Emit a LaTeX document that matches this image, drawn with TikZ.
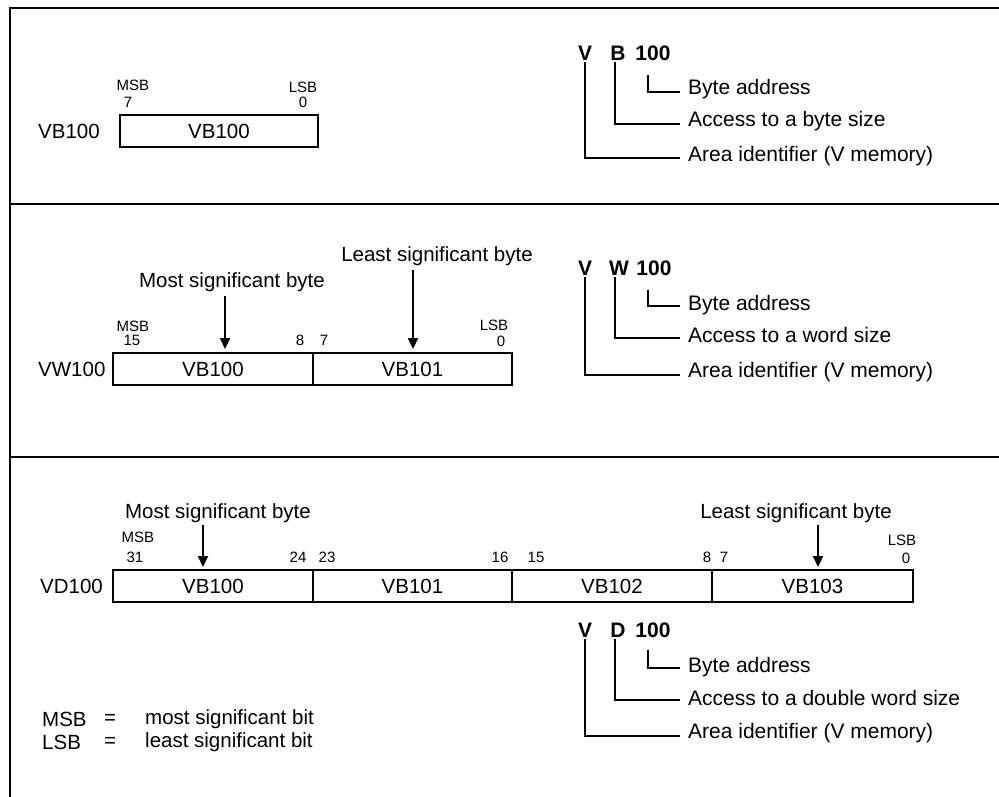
\documentclass[tikz,border=0pt]{standalone}
\usepackage{fontspec}
\setmainfont{Liberation Sans}
\usetikzlibrary{arrows.meta}
\begin{document}
\begin{tikzpicture}[x=1pt,y=-1pt,
  lab/.style={inner sep=0pt, font=\fontsize{20.5}{24}\selectfont},
  ann/.style={inner sep=0pt, anchor=west, font=\fontsize{21}{25}\selectfont},
  code/.style={inner sep=0pt, font=\fontsize{21}{25}\selectfont\bfseries},
  small/.style={inner sep=0pt, font=\fontsize{15}{16}\selectfont},
  cell/.style={draw, line width=1.3pt, minimum height=32pt, inner sep=0pt, font=\fontsize{20.5}{24}\selectfont},
  frame/.style={line width=1.8pt},
  brk/.style={line width=1.2pt},
  arr/.style={line width=2.2pt, -{Triangle[length=11pt,width=10pt]}}]
\useasboundingbox (0,0) rectangle (999,797);
% frame
\draw[frame] (999,8) -- (10,8) -- (10,797);
\draw[frame] (10,204) -- (999,204);
\draw[frame] (10,457) -- (999,457);

% ---------- top panel ----------
\node[lab, anchor=west] (l1) at (38,131) {VB100};
\node[cell, minimum width=198pt] (c10) at (219,131) {VB100};
\node[small] (msb1) at (133,85) {MSB};
\node[small] (n17) at (128,102) {7};
\node[small] (lsb1) at (303,87) {LSB};
\node[small] (n10) at (303,102) {0};

\node[code] (v1) at (585,53) {V};
\node[code] (b1) at (618,53) {B};
\node[code] (h1) at (653,53) {100};
\node[ann] (t1a) at (688,89) {Byte address};
\node[ann] (t1b) at (688,121) {Access to a byte size};
\node[ann] (t1c) at (688,156) {Area identifier (V memory)};
\draw[brk] ([yshift=-2pt]v1.south) |- ([xshift=-8pt,yshift=-2pt]t1c.west);
\draw[brk] ([xshift=-3pt,yshift=-2pt]b1.south) |- ([xshift=-8pt,yshift=-3pt]t1b.west);
\draw[brk] ([xshift=-5pt,yshift=-14pt]h1.south) |- ([xshift=-8pt,yshift=-3pt]t1a.west);

% ---------- middle panel ----------
\node[lab, anchor=west] (l2) at (38,369) {VW100};
\node[cell, minimum width=200pt] (c20) at (213,369) {VB100};
\node[cell, minimum width=199pt] (c21) at (412.5,369) {VB101};
\node[small] (msb2) at (133,326) {MSB};
\node[small] (n215) at (132,340) {15};
\node[small] (n28) at (300,340) {8};
\node[small] (n27) at (324,340) {7};
\node[small] (lsb2) at (494,325) {LSB};
\node[small] (n20) at (501,341) {0};
\node[lab] (ms2) at (232,282) {Most significant byte};
\node[lab] (ls2) at (437,256) {Least significant byte};
\coordinate (a2m) at (225,349);
\coordinate (a2l) at (413,349);
\draw[arr] ([yshift=-4pt]ms2.south -| a2m) -- (a2m);
\draw[arr] ([yshift=-4pt]ls2.south -| a2l) -- (a2l);

\node[code] (v2) at (585,268) {V};
\node[code] (w2) at (619,268) {W};
\node[code] (h2) at (654,268) {100};
\node[ann] (t2a) at (688,305) {Byte address};
\node[ann] (t2b) at (688,335) {Access to a word size};
\node[ann] (t2c) at (688,372) {Area identifier (V memory)};
\draw[brk] ([yshift=-2pt]v2.south) |- ([xshift=-8pt,yshift=-3pt]t2c.west);
\draw[brk] ([xshift=-4pt,yshift=-2pt]w2.south) |- ([xshift=-8pt,yshift=-3pt]t2b.west);
\draw[brk] ([xshift=-6pt,yshift=-14pt]h2.south) |- ([xshift=-8pt,yshift=-1pt]t2a.west);

% ---------- bottom panel ----------
\node[lab, anchor=west] (l3) at (40,586) {VD100};
\node[cell, minimum width=200pt] (c30) at (213,586) {VB100};
\node[cell, minimum width=199pt] (c31) at (412.5,586) {VB101};
\node[cell, minimum width=200pt] (c32) at (612,586) {VB102};
\node[cell, minimum width=201pt] (c33) at (812.5,586) {VB103};
\node[small] (msb3) at (138,537) {MSB};
\node[small] (n331) at (135,557) {31};
\node[small] (n324) at (298,557) {24};
\node[small] (n323) at (327,557) {23};
\node[small] (n316) at (500,557) {16};
\node[small] (n315) at (536,557) {15};
\node[small] (n38) at (707,557) {8};
\node[small] (n37) at (724,557) {7};
\node[small] (lsb3) at (902,540) {LSB};
\node[small] (n30) at (906,558) {0};
\node[lab] (ms3) at (218,513) {Most significant byte};
\node[lab] (ls3) at (796,513) {Least significant byte};
\coordinate (a3m) at (203,567);
\coordinate (a3l) at (818,567);
\draw[arr] ([yshift=-2pt]ms3.south -| a3m) -- (a3m);
\draw[arr] ([yshift=-2pt]ls3.south -| a3l) -- (a3l);

\node[code] (v3) at (585,630) {V};
\node[code] (d3) at (618,630) {D};
\node[code] (h3) at (653,630) {100};
\node[ann] (t3a) at (688,667) {Byte address};
\node[ann] (t3b) at (688,698) {Access to a double word size};
\node[ann] (t3c) at (688,733) {Area identifier (V memory)};
\draw[brk] ([yshift=-2pt]v3.south) |- ([xshift=-8pt,yshift=-3pt]t3c.west);
\draw[brk] ([xshift=-3pt,yshift=-2pt]d3.south) |- ([xshift=-8pt,yshift=-2pt]t3b.west);
\draw[brk] ([xshift=-5pt,yshift=-12pt]h3.south) |- ([xshift=-8pt,yshift=-1pt]t3a.west);

% legend
\node[lab, anchor=west] (g1) at (42,719) {MSB};
\node[lab] (g1e) at (110,719) {=};
\node[lab, anchor=west] (g1t) at (145,719) {most significant bit};
\node[lab, anchor=west] (g2) at (42,742) {LSB};
\node[lab] (g2e) at (110,742) {=};
\node[lab, anchor=west] (g2t) at (145,742) {least significant bit};
\end{tikzpicture}
\end{document}
